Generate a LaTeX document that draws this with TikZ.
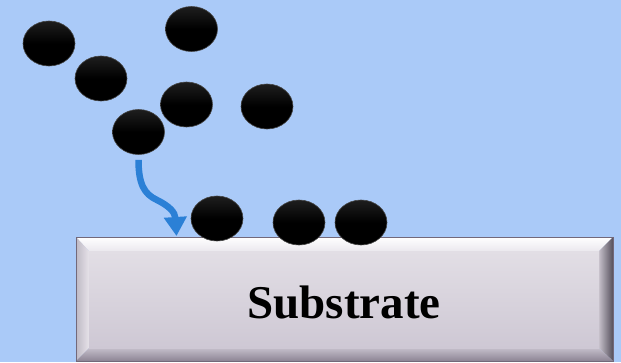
\documentclass[tikz,border=0pt]{standalone}
\usepackage{fontspec}
\setmainfont{Liberation Serif}
\usetikzlibrary{shapes.geometric,arrows.meta}
\definecolor{bgblue}{RGB}{170,202,248}
\definecolor{arrowblue}{RGB}{43,128,214}
\definecolor{faceTop}{RGB}{226,222,229}
\definecolor{faceBot}{RGB}{206,200,212}
\definecolor{rimline}{RGB}{115,105,122}
\definecolor{bevTopB}{RGB}{235,232,238}
\definecolor{bevLeftA}{RGB}{190,185,196}
\definecolor{bevLeftB}{RGB}{230,226,233}
\definecolor{bevRightA}{RGB}{196,190,200}
\definecolor{bevRightB}{RGB}{85,80,92}
\definecolor{bevBotA}{RGB}{196,190,202}
\definecolor{bevBotB}{RGB}{140,132,148}
\definecolor{partEdge}{RGB}{70,70,70}
\definecolor{partTop}{RGB}{30,30,30}
\tikzset{
  particle/.style={ellipse, minimum width=52pt, minimum height=45pt, inner sep=0pt,
    draw=partEdge, line width=0.6pt,
    top color=partTop, bottom color=black, middle color=black},
  flow/.style={draw=arrowblue, line width=6.5pt, -{Triangle[length=19pt,width=22pt]}},
  label/.style={font=\bfseries\fontsize{47}{50}\selectfont, inner sep=0pt}
}
\begin{document}
\begin{tikzpicture}[x=1pt,y=-1pt]
\fill[bgblue] (0,0) rectangle (621,362);
\useasboundingbox (0,0) rectangle (621,362);
% substrate bevel
\shade[top color=white, bottom color=bevTopB] (76,237) -- (613,237) -- (599,251) -- (89,251) -- cycle;
\shade[left color=bevLeftA, right color=bevLeftB] (76,237) -- (89,251) -- (89,348) -- (76,361) -- cycle;
\shade[left color=bevRightA, right color=bevRightB] (613,237) -- (613,361) -- (599,348) -- (599,251) -- cycle;
\shade[top color=bevBotA, bottom color=bevBotB] (76,361) -- (89,348) -- (599,348) -- (613,361) -- cycle;
\shade[top color=faceTop, bottom color=faceBot] (89,251) rectangle (599,348);
\node[draw=rimline, line width=0.8pt, minimum width=537pt, minimum height=124pt, inner sep=0pt, anchor=north west] (sub) at (76,237) {};
\node[label, anchor=base] (txt) at (344,318) {Substrate};
% particles
\node[particle] (p1) at (49,43.5) {};
\node[particle] (p2) at (191.5,29) {};
\node[particle] (p3) at (101,78.5) {};
\node[particle] (p4) at (186.5,104.5) {};
\node[particle] (p5) at (267,106.5) {};
\node[particle] (p6) at (138.5,132) {};
\node[particle] (p7) at (217,218.5) {};
\node[particle] (p8) at (299,222.5) {};
\node[particle] (p9) at (361,222.5) {};
% arrow
\coordinate (tip) at (176.5,236);
\draw[flow] ([yshift=-5pt]p6.south) .. controls ++(0,24) and (144,194) .. (157,200) .. controls (169,206) and (175,212) .. (tip);
\end{tikzpicture}
\end{document}
